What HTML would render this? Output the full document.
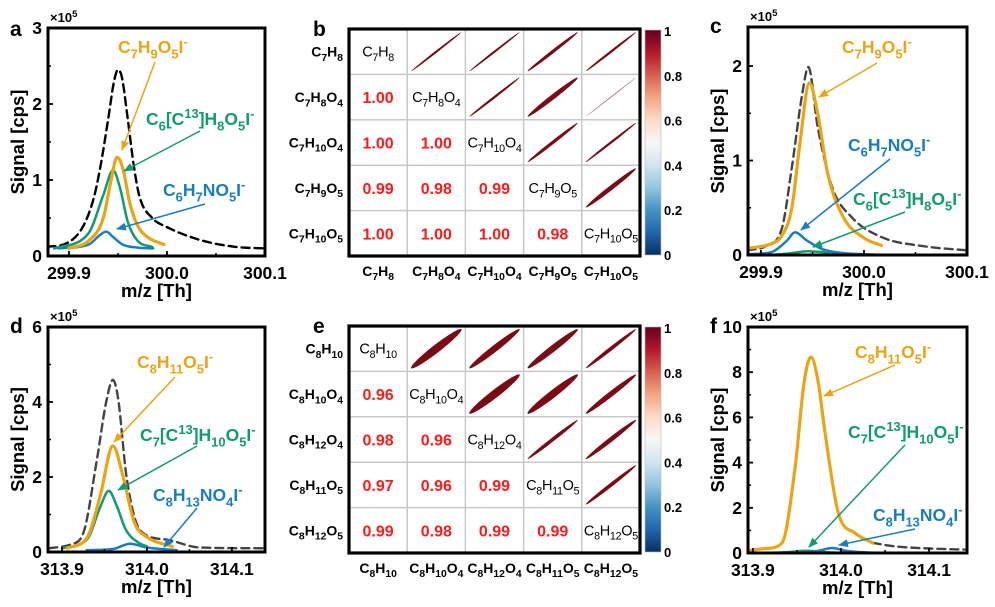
<!DOCTYPE html>
<html><head><meta charset="utf-8">
<style>
html,body{margin:0;padding:0;background:#fff;}
svg{display:block;font-family:"Liberation Sans",Arial,sans-serif;}
</style></head>
<body>
<svg id="fig" width="995" height="607" viewBox="0 0 995 607" xmlns="http://www.w3.org/2000/svg">
<defs>
<marker id="arO" markerWidth="10" markerHeight="8" refX="9" refY="4" orient="auto" markerUnits="userSpaceOnUse"><path d="M0,0 L10,4 L0,8 Z" fill="#EBA414"/></marker>
<marker id="arG" markerWidth="10" markerHeight="8" refX="9" refY="4" orient="auto" markerUnits="userSpaceOnUse"><path d="M0,0 L10,4 L0,8 Z" fill="#109B70"/></marker>
<marker id="arB" markerWidth="10" markerHeight="8" refX="9" refY="4" orient="auto" markerUnits="userSpaceOnUse"><path d="M0,0 L10,4 L0,8 Z" fill="#1A7DC0"/></marker>
<linearGradient id="cbar" x1="0" y1="0" x2="0" y2="1">
<stop offset="0" stop-color="#67001f"/><stop offset="0.1" stop-color="#b2182b"/><stop offset="0.2" stop-color="#d6604d"/><stop offset="0.3" stop-color="#f4a582"/><stop offset="0.4" stop-color="#fddbc7"/><stop offset="0.5" stop-color="#f7f7f7"/><stop offset="0.6" stop-color="#d1e5f0"/><stop offset="0.7" stop-color="#92c5de"/><stop offset="0.8" stop-color="#4393c3"/><stop offset="0.9" stop-color="#2166ac"/><stop offset="1" stop-color="#053061"/>
</linearGradient>
</defs>
</svg>
<script>
// ---------- DATA ----------
const aDashX=[299.878,299.898,299.914,299.925,299.932,299.94,299.946,299.95,299.954,299.96,299.966,299.972,299.985,300.0,300.034,300.07,300.1];
const aDashY=[0.12,0.17,0.38,0.75,1.17,1.8,2.3,2.45,2.35,1.8,1.2,0.78,0.5,0.38,0.21,0.12,0.1];
const aOrX=[299.9,299.92,299.935,299.943,299.949,299.955,299.962,299.97,299.98,299.997];
const aOrY=[0.1,0.2,0.5,1.0,1.3,1.15,0.7,0.4,0.25,0.15];
const aGrX=[299.885,299.92,299.935,299.945,299.952,299.96,299.97,299.985];
const aGrY=[0.1,0.3,0.8,1.13,0.9,0.45,0.2,0.12];
const aBlX=[299.889,299.92,299.932,299.938,299.945,299.955,299.97,299.986];
const aBlY=[0.1,0.15,0.28,0.32,0.25,0.15,0.11,0.1];
const cDashX=[299.887,299.904,299.92,299.93,299.94,299.946,299.955,299.969,299.988,300.017,300.06,300.1];
const cDashY=[0.05,0.09,0.27,0.93,1.7,1.99,1.36,0.72,0.4,0.19,0.09,0.05];
const cOrX=[299.887,299.91,299.92,299.93,299.938,299.947,299.955,299.965,299.98,300.0,300.017];
const cOrY=[0.07,0.12,0.2,0.5,1.2,1.82,1.5,0.85,0.4,0.18,0.1];
const cBlX=[299.89,299.91,299.925,299.933,299.945,299.96,299.98,300.01];
const cBlY=[0.01,0.03,0.15,0.24,0.15,0.06,0.02,0.005];
const cGrX=[299.91,299.93,299.945,299.96,299.98,300.01];
const cGrY=[0.0,0.02,0.04,0.03,0.01,0.0];
const dDashX=[313.885,313.91,313.925,313.941,313.952,313.96,313.966,313.976,313.992,314.023,314.062,314.139];
const dDashY=[0.1,0.2,0.5,2.45,4.0,4.59,4.1,2.0,0.58,0.33,0.12,0.1];
const dOrX=[313.906,313.93,313.945,313.96,313.972,313.985,314.0,314.03];
const dOrY=[0.1,0.4,1.5,2.83,2.0,0.8,0.4,0.15];
const dGrX=[313.9,313.93,313.945,313.955,313.965,313.975,313.99,314.0];
const dGrY=[0.1,0.35,1.2,1.63,1.2,0.6,0.25,0.15];
const dBlX=[313.929,313.96,313.98,314.0,314.035];
const dBlY=[0.05,0.08,0.22,0.12,0.05];
const fDashX=[314.036,314.06,314.1,314.14];
const fDashY=[0.45,0.3,0.2,0.15];
const fOrX=[313.894,313.915,313.933,313.948,313.958,313.966,313.974,313.982,313.997,314.016,314.036];
const fOrY=[0.1,0.2,0.44,3.8,7.5,8.67,7.6,5.3,1.77,0.88,0.44];
const fGrX=[313.91,313.94,313.96,313.98,314.01];
const fGrY=[0.0,0.04,0.1,0.04,0.0];
const fBlX=[313.95,313.975,313.99,314.005,314.03,314.06];
const fBlY=[0.0,0.1,0.22,0.1,0.02,0.0];
const bNames=["C_7H_8","C_7H_8O_4","C_7H_1_0O_4","C_7H_9O_5","C_7H_1_0O_5"];
const bLower=[["1.00"],["1.00","1.00"],["0.99","0.98","0.99"],["1.00","1.00","1.00","0.98"]];
const bUpperR=[[0.997,0.997,0.992,0.996],[0.996,0.983,0.9995],[0.992,0.996],[0.985]];
const eNames=["C_8H_1_0","C_8H_1_0O_4","C_8H_1_2O_4","C_8H_1_1O_5","C_8H_1_2O_5"];
const eLower=[["0.96"],["0.98","0.96"],["0.97","0.96","0.99"],["0.99","0.98","0.99","0.99"]];
const eUpperR=[[0.955,0.97,0.97,0.99],[0.955,0.96,0.98],[0.99,0.985],[0.99]];
const cbTicks=["1","0.8","0.6","0.4","0.2","0"];

// ---------- HELPERS ----------
const NS="http://www.w3.org/2000/svg";
const svg=document.getElementById('fig');
function el(tag,attrs,parent){const e=document.createElementNS(NS,tag);for(const k in attrs)e.setAttribute(k,attrs[k]);(parent||svg).appendChild(e);return e;}
function ftext(str,x,y,size,anchor,fill,weight,name,parent){
  const t=el('text',{x:x,y:y,'font-size':size,'text-anchor':anchor,fill:fill,'font-weight':weight},parent);
  
  
  let i=0,mode=0;const sh=size*0.3;
  let buf='';
  function off(m){return m===1?sh:m===2?-sh*1.3:0;}
  function flush(m){ if(!buf)return; const ts=el('tspan',{},t);
    const dy=off(m)-off(mode); if(dy)ts.setAttribute('dy',dy);
    if(m)ts.setAttribute('font-size',size*0.74);
    ts.textContent=buf; buf=''; mode=m;}
  let cur=0;
  while(i<str.length){const ch=str[i];
    if(ch==='_'||ch==='^'){const m=ch==='_'?1:2; if(cur!==m){flush(cur);cur=m;} buf+=str[i+1]; i+=2;}
    else { if(cur!==0){flush(cur);cur=0;} buf+=ch; i++; }}
  flush(cur);
  return t;
}
function smooth(pts){
  const n=pts.length; if(n<2) return '';
  const dx=[],m=[],t=new Array(n);
  for(let i=0;i<n-1;i++){dx[i]=pts[i+1][0]-pts[i][0]; m[i]=(pts[i+1][1]-pts[i][1])/dx[i];}
  t[0]=m[0]; t[n-1]=m[n-2];
  for(let i=1;i<n-1;i++){ if(m[i-1]*m[i]<=0) t[i]=0; else { t[i]=(m[i-1]+m[i])/2; } }
  for(let i=0;i<n-1;i++){ if(m[i]===0){t[i]=0;t[i+1]=0;continue;}
    const a=t[i]/m[i],b=t[i+1]/m[i],s=a*a+b*b; if(s>9){const k=3/Math.sqrt(s);t[i]=k*a*m[i];t[i+1]=k*b*m[i];}}
  let d='M'+pts[0][0].toFixed(2)+','+pts[0][1].toFixed(2);
  for(let i=0;i<n-1;i++){const h=dx[i]/3;
    d+=' C'+(pts[i][0]+h).toFixed(2)+','+(pts[i][1]+t[i]*h).toFixed(2)+' '+(pts[i+1][0]-h).toFixed(2)+','+(pts[i+1][1]-t[i+1]*h).toFixed(2)+' '+pts[i+1][0].toFixed(2)+','+pts[i+1][1].toFixed(2);}
  return d;
}
function linePanel(P){
  const g=el('g',{});
  
  
  const sx=v=>P.x0+(v-P.xmin)/(P.xmax-P.xmin)*(P.x1-P.x0);
  const sy=v=>P.y1-(v-P.ymin)/(P.ymax-P.ymin)*(P.y1-P.y0);
  const cp=el('clipPath',{id:'clip'+P.id},g);
  el('rect',{x:P.x0,y:P.y0,width:P.x1-P.x0,height:P.y1-P.y0},cp);
  const sg=el('g',{'clip-path':'url(#clip'+P.id+')'},g);
  P.series.forEach(s=>{
    const pts=s.x.map((v,i)=>[sx(v),sy(s.y[i])]);
    const p=el('path',{d:smooth(pts),fill:'none',stroke:s.c,'stroke-width':s.w,'stroke-linejoin':'round','stroke-linecap':'round'},sg);
    if(s.dash)p.setAttribute('stroke-dasharray',s.dash);
    
    
  });
  P.xt.forEach((v,i)=>{
    const X=sx(v);
    const tk=el('line',{x1:X,x2:X,y1:P.y1,y2:P.y1-5,stroke:'#000','stroke-width':1.8},g);
    
    
    const mid=v+P.xstep/2;
    if(mid<P.xmax){const mx=sx(mid);el('line',{x1:mx,x2:mx,y1:P.y1,y2:P.y1-3,stroke:'#000','stroke-width':1.5},g);}
    const t=el('text',{x:X,y:P.y1+23,'font-size':17.5,'font-weight':'bold','text-anchor':'middle'},g);
    t.textContent=P.xtl[i];
    
    
  });
  P.yt.forEach((v,i)=>{
    const Y=sy(v);
    const tk=el('line',{x1:P.x0,x2:P.x0+5,y1:Y,y2:Y,stroke:'#000','stroke-width':1.8},g);
    
    
    const mid=v+P.ystep/2; if(mid<P.ymax){const my=sy(mid);el('line',{x1:P.x0,x2:P.x0+3,y1:my,y2:my,stroke:'#000','stroke-width':1.5},g);}
    const t=el('text',{x:P.x0-6,y:Y+6,'font-size':17.5,'font-weight':'bold','text-anchor':'end'},g);
    t.textContent=P.ytl[i];
    
    
  });
  const fr=el('rect',{x:P.x0,y:P.y0,width:P.x1-P.x0,height:P.y1-P.y0,fill:'none',stroke:'#000','stroke-width':3},g);
  
  
  const xt=el('text',{x:(P.x0+P.x1)/2,y:P.y1+41,'font-size':18.5,'font-weight':'bold','text-anchor':'middle'},g);
  xt.textContent='m/z [Th]';
  
  
  const yc=(P.y0+P.y1)/2;
  const yt=el('text',{x:P.ytx,y:yc,'font-size':18.5,'font-weight':'bold','text-anchor':'middle',transform:'rotate(-90 '+P.ytx+' '+yc+')'},g);
  yt.textContent='Signal [cps]';
  
  
  ftext('×10^5',P.x0+2,P.y0-6,13,'start','#000','bold','y-scale-label',g);
  const pl=el('text',{x:P.lx,y:P.ly,'font-size':21,'font-weight':'bold'},g);
  pl.textContent=P.id;
  
  
  P.labels.forEach(L=>{
    ftext(L.t,L.x,L.y,17.5,'start',L.c,'bold',L.name,g);
    const a=el('line',{x1:L.a[0],y1:L.a[1],x2:L.a[2],y2:L.a[3],stroke:L.c,'stroke-width':1.5,'marker-end':'url(#'+L.m+')'},g);
    
    
  });
}
const OR='#EBA414',GR='#109B70',BL='#1A7DC0';

linePanel({id:'a',x0:48,x1:265,y0:28,y1:256,xmin:299.8786,xmax:300.1,ymin:0,ymax:3,xt:[299.9,300.0,300.1],xtl:['299.9','300.0','300.1'],xstep:0.1,yt:[0,1,2,3],ytl:['0','1','2','3'],ystep:1,ytx:24,lx:10,ly:36,
 series:[{x:aDashX,y:aDashY,c:'#000',w:2.4,dash:'8,5',name:'total-signal-dashed'},{x:aBlX,y:aBlY,c:BL,w:2.5,name:'series-C6H7NO5I'},{x:aGrX,y:aGrY,c:GR,w:2.5,name:'series-C6C13H8O5I'},{x:aOrX,y:aOrY,c:OR,w:3.2,name:'series-C7H9O5I'}],
 labels:[{t:'C_7H_9O_5I^-',x:118,y:53,c:OR,m:'arO',a:[155,62,122,150],name:'label-C7H9O5I'},
  {t:'C_6[C^1^3]H_8O_5I^-',x:146,y:125,c:GR,m:'arG',a:[200,131,124,171],name:'label-C6C13H8O5I'},
  {t:'C_6H_7NO_5I^-',x:163,y:196,c:BL,m:'arB',a:[205,204,117,229],name:'label-C6H7NO5I'}]});
linePanel({id:'c',x0:748,x1:967,y0:27,y1:255,xmin:299.8874,xmax:300.1,ymin:0,ymax:2.413,xt:[299.9,300.0,300.1],xtl:['299.9','300.0','300.1'],xstep:0.1,yt:[0,1,2],ytl:['0','1','2'],ystep:1,ytx:724,lx:710,ly:33,
 series:[{x:cDashX,y:cDashY,c:'#444',w:2.4,dash:'8,5',name:'total-signal-dashed'},{x:cGrX,y:cGrY,c:GR,w:2.5,name:'series-C6C13H8O5I'},{x:cBlX,y:cBlY,c:BL,w:2.5,name:'series-C6H7NO5I'},{x:cOrX,y:cOrY,c:OR,w:3.2,name:'series-C7H9O5I'}],
 labels:[{t:'C_7H_9O_5I^-',x:842,y:53,c:OR,m:'arO',a:[877,63,819,97],name:'label-C7H9O5I'},
  {t:'C_6H_7NO_5I^-',x:848,y:151,c:BL,m:'arB',a:[890,159,801,230],name:'label-C6H7NO5I'},
  {t:'C_6[C^1^3]H_8O_5I^-',x:853,y:205,c:GR,m:'arG',a:[905,212,813,247],name:'label-C6C13H8O5I'}]});
linePanel({id:'d',x0:48,x1:265,y0:327,y1:552,xmin:313.8835,xmax:314.139,ymin:0,ymax:6,xt:[313.9,314.0,314.1],xtl:['313.9','314.0','314.1'],xstep:0.1,yt:[0,2,4,6],ytl:['0','2','4','6'],ystep:2,ytx:24,lx:10,ly:333,
 series:[{x:dDashX,y:dDashY,c:'#444',w:2.4,dash:'8,5',name:'total-signal-dashed'},{x:dBlX,y:dBlY,c:BL,w:2.5,name:'series-C8H13NO4I'},{x:dGrX,y:dGrY,c:GR,w:2.5,name:'series-C7C13H10O5I'},{x:dOrX,y:dOrY,c:OR,w:3.2,name:'series-C8H11O5I'}],
 labels:[{t:'C_8H_1_1O_5I^-',x:137,y:368,c:OR,m:'arO',a:[175,377,114,442],name:'label-C8H11O5I'},
  {t:'C_7[C^1^3]H_1_0O_5I^-',x:140,y:441,c:GR,m:'arG',a:[197,446,118,490],name:'label-C7C13H10O5I'},
  {t:'C_8H_1_3NO_4I^-',x:153,y:501,c:BL,m:'arB',a:[197,508,164,547],name:'label-C8H13NO4I'}]});
linePanel({id:'f',x0:748,x1:967,y0:327,y1:553,xmin:313.8945,xmax:314.143,ymin:0,ymax:10,xt:[313.9,314.0,314.1],xtl:['313.9','314.0','314.1'],xstep:0.1,yt:[0,2,4,6,8,10],ytl:['0','2','4','6','8','10'],ystep:2,ytx:724,lx:710,ly:333,
 series:[{x:fDashX,y:fDashY,c:'#444',w:2.4,dash:'8,5',name:'total-signal-dashed'},{x:fGrX,y:fGrY,c:GR,w:2.5,name:'series-C7C13H10O5I'},{x:fBlX,y:fBlY,c:BL,w:2.5,name:'series-C8H13NO4I'},{x:fOrX,y:fOrY,c:OR,w:3.2,name:'series-C8H11O5I'}],
 labels:[{t:'C_8H_1_1O_5I^-',x:855,y:358,c:OR,m:'arO',a:[895,365,824,396],name:'label-C8H11O5I'},
  {t:'C_7[C^1^3]H_1_0O_5I^-',x:848,y:438,c:GR,m:'arG',a:[905,445,809,547],name:'label-C7C13H10O5I'},
  {t:'C_8H_1_3NO_4I^-',x:873,y:521,c:BL,m:'arB',a:[915,529,839,545],name:'label-C8H13NO4I'}]});

function heatmap(H){
  const g=el('g',{});
  
  
  const n=H.names.length,cw=(H.x1-H.x0)/n,ch=(H.y1-H.y0)/n;
  for(let k=1;k<n;k++){
    el('line',{x1:H.x0+k*cw,x2:H.x0+k*cw,y1:H.y0,y2:H.y1,stroke:'#c8c8c8','stroke-width':1.5},g);
    el('line',{y1:H.y0+k*ch,y2:H.y0+k*ch,x1:H.x0,x2:H.x1,stroke:'#c8c8c8','stroke-width':1.5},g);
  }
  for(let r=0;r<n;r++)for(let c=0;c<n;c++){
    const cx=H.x0+(c+0.5)*cw,cy=H.y0+(r+0.5)*ch;
    if(r===c){const dt=ftext(H.names[r],cx,cy+5,14.5,'middle','#000','normal','diagonal-label',g);dt.setAttribute('letter-spacing','-0.3');}
    else if(r>c){const t=el('text',{x:cx,y:cy+6,'font-size':16,'font-weight':'bold','text-anchor':'middle',fill:'#ff1a1a'},g);
      t.textContent=H.lower[r-1][c];
      
      }
    else {const rv=H.upper[r][c-r-1];
      const rx=1.22;
      const minor=Math.sqrt((1-rv)/(1+rv))*rx*0.85;
      const e=el('ellipse',{cx:0,cy:0,rx:rx,ry:Math.max(minor,0.015),fill:rv>0.999?'#b06070':'#7a0a14',transform:'translate('+cx+','+cy+') scale('+(cw/2)+','+(ch/2)+') rotate(-45)'},g);
      
      }
  }
  for(let k=0;k<n;k++){
    ftext(H.names[k],H.x0-6,H.y0+(k+0.5)*ch+5,14,'end','#000','bold','row-label',g);
    ftext(H.names[k],H.x0+(k+0.5)*cw,H.y1+20,14,'middle','#000','bold','column-label',g);
  }
  const fr=el('rect',{x:H.x0,y:H.y0,width:H.x1-H.x0,height:H.y1-H.y0,fill:'none',stroke:'#000','stroke-width':3.2},g);
  
  
  const cb=el('rect',{x:645,y:H.y0+1,width:16,height:H.y1-H.y0-2,fill:'url(#cbar)',stroke:'#bbb','stroke-width':0.6},g);
  
  
  cbTicks.forEach((s,i)=>{const y=H.y0+2+i*(H.y1-H.y0-3)/(cbTicks.length-1);
    const t=el('text',{x:664,y:y+5,'font-size':13,'font-weight':'bold'},g);t.textContent=s;
    
    });
  const pl=el('text',{x:H.lx,y:H.ly,'font-size':21,'font-weight':'bold'},g);
  pl.textContent=H.id;
  
  
}
heatmap({id:'b',x0:349,x1:640,y0:29,y1:256,names:bNames,lower:bLower,upper:bUpperR,lx:313,ly:36});
heatmap({id:'e',x0:349,x1:640,y0:326,y1:553,names:eNames,lower:eLower,upper:eUpperR,lx:313,ly:333});
</script>
</body></html>
